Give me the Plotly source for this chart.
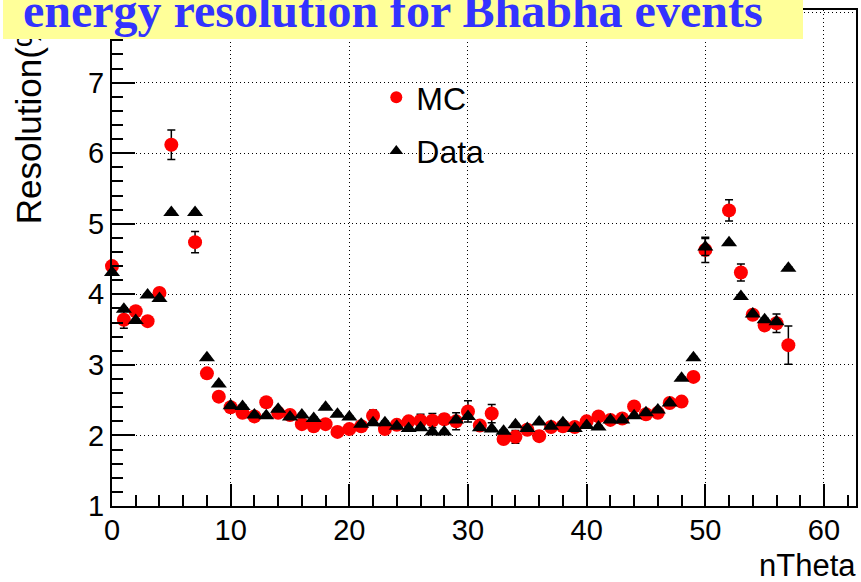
import plotly.graph_objects as go

# ---- data ----
n_theta = [0, 1, 2, 3, 4, 5, 7, 8, 9, 10, 11, 12, 13, 14, 15, 16, 17, 18, 19, 20,
           21, 22, 23, 24, 25, 26, 27, 28, 29, 30, 31, 32, 33, 34, 35, 36, 37, 38, 39, 40,
           41, 42, 43, 44, 45, 46, 47, 48, 49, 50, 52, 53, 54, 55, 56, 57]

mc_res = [4.40, 3.64, 3.76, 3.62, 4.02, 6.12, 4.74, 2.88, 2.55, 2.40, 2.32, 2.27, 2.47, 2.32, 2.29, 2.16, 2.13, 2.16, 2.05, 2.09,
          2.13, 2.28, 2.09, 2.15, 2.20, 2.21, 2.21, 2.23, 2.20, 2.34, 2.14, 2.31, 1.95, 1.98, 2.08, 1.99, 2.12, 2.13, 2.12, 2.20,
          2.27, 2.22, 2.24, 2.41, 2.30, 2.32, 2.46, 2.48, 2.83, 4.63, 5.19, 4.31, 3.71, 3.56, 3.59, 3.28]

mc_err = [0.05, 0.12, 0.05, 0.05, 0.05, 0.21, 0.15, 0.05, 0.05, 0.05, 0.05, 0.05, 0.05, 0.05, 0.06, 0.05, 0.05, 0.05, 0.05, 0.05,
          0.05, 0.08, 0.05, 0.05, 0.06, 0.09, 0.10, 0.07, 0.12, 0.15, 0.06, 0.13, 0.05, 0.09, 0.06, 0.07, 0.05, 0.05, 0.05, 0.05,
          0.05, 0.05, 0.05, 0.05, 0.05, 0.05, 0.05, 0.05, 0.05, 0.18, 0.15, 0.12, 0.05, 0.06, 0.13, 0.27]

data_res = [4.31, 3.79, 3.63, 3.99, 3.94, 5.16, 5.16, 3.10, 2.73, 2.42, 2.41, 2.29, 2.28, 2.37, 2.26, 2.29, 2.24, 2.40, 2.30, 2.26,
            2.16, 2.18, 2.18, 2.13, 2.10, 2.11, 2.05, 2.05, 2.22, 2.27, 2.11, 2.09, 2.06, 2.15, 2.10, 2.19, 2.13, 2.18, 2.10, 2.14,
            2.12, 2.22, 2.22, 2.28, 2.32, 2.36, 2.46, 2.81, 3.10, 4.67, 4.73, 3.97, 3.72, 3.64, 3.61, 4.37]

data_err = [0.02] * 49 + [0.12] + [0.02] * 6

title_text = "energy resolution for Bhabha events"
x_title = "nTheta"
y_title = "Resolution(%)"

# ---- geometry ----
W, H = 861, 582
ML, MR, MT, MB = 112, 3, 10, 76
PW, PH = W - ML - MR, H - MT - MB


def px_x(p):
    return (p - ML) / PW


def px_y(p):
    return (H - MB - p) / PH


SANS = "Liberation Sans, Arial, Helvetica, sans-serif"

fig = go.Figure()

fig.add_trace(go.Scatter(
    x=n_theta, y=mc_res, mode="markers", name="MC", legendgroup="mc",
    marker=dict(symbol="circle", size=14, color="#ff0000", line=dict(width=0)),
    error_y=dict(type="data", array=mc_err, color="black", thickness=1.5, width=4),
    cliponaxis=False,
))
fig.add_trace(go.Scatter(
    x=n_theta, y=data_res, mode="markers", name="Data", legendgroup="data",
    marker=dict(symbol="triangle-up", size=14, color="black", line=dict(width=0)),
    error_y=dict(type="data", array=data_err, color="black", thickness=1.5, width=4),
    cliponaxis=False,
))

axis_common = dict(
    showline=True, linecolor="black", linewidth=2, mirror=True,
    showgrid=True, gridcolor="black", gridwidth=1, griddash="1px,3px",
    ticks="inside", tickcolor="black", tickwidth=1.5,
    tickfont=dict(family=SANS, size=29, color="black"),
    zeroline=False,
)

fig.update_xaxes(
    range=[0, 62.7], dtick=10, tick0=0, ticklen=22, ticklabelstandoff=-3,
    minor=dict(dtick=2, ticks="inside", ticklen=11, tickcolor="black", tickwidth=1.5, showgrid=False),
    **axis_common,
)
fig.update_yaxes(
    range=[1, 8.03], dtick=1, tick0=1, ticklen=23,
    minor=dict(dtick=0.2, ticks="inside", ticklen=11, tickcolor="black", tickwidth=1.5, showgrid=False),
    **axis_common,
)

annotations = [
    # y axis title
    dict(text=y_title, textangle=-90, xref="paper", yref="paper",
         x=px_x(29), y=px_y(226), xanchor="center", yanchor="bottom",
         showarrow=False, font=dict(family=SANS, size=35, color="black")),
    # x axis title
    dict(text=x_title, xref="paper", yref="paper",
         x=px_x(860), y=px_y(585), xanchor="right", yanchor="bottom",
         showarrow=False, font=dict(family=SANS, size=31, color="black")),
    # yellow title box
    dict(text=" ", xref="paper", yref="paper",
         x=px_x(3), y=px_y(39), xanchor="left", yanchor="bottom",
         width=800, height=70, bgcolor="#ffff99", borderpad=0, borderwidth=0,
         showarrow=False, font=dict(size=10)),
    # title text
    dict(text="<b>" + title_text + "</b>", xref="paper", yref="paper",
         x=px_x(21), y=px_y(39), xanchor="left", yanchor="bottom",
         showarrow=False,
         font=dict(family="Liberation Serif, Times New Roman, serif", size=48, color="#3333ff")),
]

fig.update_layout(
    width=W, height=H,
    margin=dict(l=ML, r=MR, t=MT, b=MB),
    paper_bgcolor="white", plot_bgcolor="white",
    showlegend=True,
    legend=dict(
        x=px_x(377), y=px_y(70), xanchor="left", yanchor="top",
        bgcolor="rgba(0,0,0,0)", borderwidth=0,
        font=dict(family=SANS, size=32, color="black"),
        tracegroupgap=9, traceorder="grouped", itemsizing="constant",
    ),
    annotations=annotations,
)

fig.write_html("out.html")
